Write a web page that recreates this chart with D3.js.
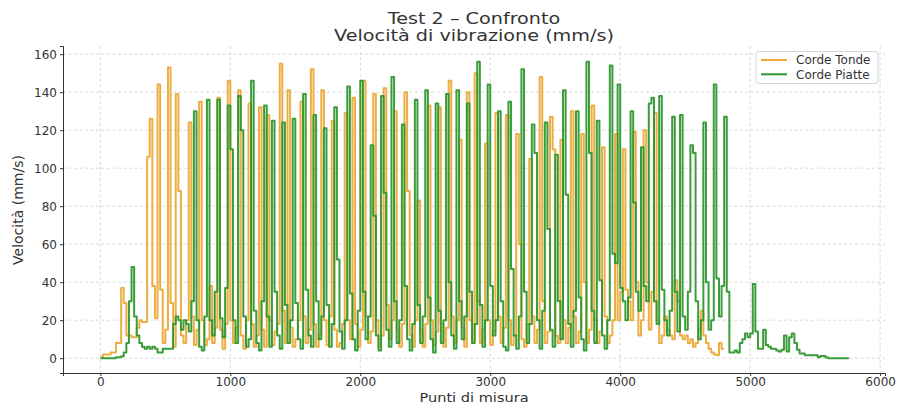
<!DOCTYPE html>
<html><head><meta charset="utf-8">
<script src="https://cdn.jsdelivr.net/npm/d3@7"></script>
<style>body{margin:0;background:#fff}</style>
</head><body>
<svg id="chart" width="900" height="407"></svg>
<script>
const titleLines = ["Test 2 – Confronto", "Velocità di vibrazione (mm/s)"];
const xLabel = "Punti di misura";
const yLabel = "Velocità (mm/s)";
const xTicks = [0, 1000, 2000, 3000, 4000, 5000, 6000];
const yTicks = [0, 20, 40, 60, 80, 100, 120, 140, 160];
const seriesNames = ["Corde Tonde", "Corde Piatte"];
const sampleSpacing = 20; // measurement points between stored samples

const cordeTonde = [
0.5,2,2,2,3,3,8,8,37,29,
12,12,11,11,16,20,19,19,106,126,
38,21,144,36,8,15,153,29,6,139,
88,12,8,20,124,22,7,15,135,20,
7,10,38,8,16,137,15,5,18,146,
20,8,16,141,12,5,20,134,18,6,
12,132,15,6,128,20,7,14,18,155,
25,8,141,16,6,10,20,135,22,8,
15,152,18,6,12,141,20,7,22,125,
15,6,8,18,129,20,10,137,18,6,
15,146,22,8,14,139,20,6,12,142,
28,10,20,130,15,6,18,140,88,12,
6,20,83,15,6,18,133,20,7,14,
132,18,6,16,146,22,8,20,115,16,
6,140,20,8,150,30,8,15,113,20,
7,14,129,22,8,16,128,20,7,12,
118,60,10,6,18,105,22,8,15,148,
30,8,14,127,110,12,8,115,20,8,
16,130,22,8,14,118,40,8,15,133,
20,8,14,111,22,8,12,20,118,20,
35,110,36,30,20,119,40,12,20,120,
40,15,35,129,20,8,12,22,15,12,
10,41,30,12,10,12,8,10,6,8,
15,25,12,8,5,3,2,1.5,8,5,5
];

const cordePiatte = [
0,0,0,0,0,0,0.5,0.5,1,3,
8,30,48,22,12,8,6,5,6,5,
6,5,3,3,5,5,5,5,18,22,
20,15,20,18,14,30,130,20,6,4,
22,136,20,12,35,136,21,11,37,133,
110,20,8,138,120,22,6,10,146,25,
8,4,30,133,22,6,125,35,12,5,
124,28,8,20,126,29,10,5,139,36,
12,6,128,30,10,22,121,28,6,18,
132,52,14,5,20,143,34,10,4,25,
146,35,10,22,112,75,12,4,138,87,
15,6,148,30,8,20,123,38,10,4,
18,136,28,8,22,141,32,10,3,134,
25,8,20,139,40,12,5,141,30,10,
22,134,35,8,18,156,28,6,20,144,
38,12,20,130,30,6,4,135,47,12,
5,22,152,35,8,18,123,108,20,5,
25,124,68,15,6,107,30,10,141,86,
18,6,25,130,32,10,4,156,108,25,
8,125,41,12,5,20,154,55,50,144,
37,30,20,32,130,82,35,25,111,38,
30,134,137,30,18,138,36,20,12,25,
127,35,14,128,22,15,35,112,108,30,
10,20,124,40,15,20,144,42,22,38,
127,35,3,3,4,3,8,10,13,11,
13,39,14,5,5,15,7,6,5,5,
4,3.5,4.5,12,3.5,11,13,8,4.5,2.5,
2.5,1.5,1.5,1.5,1.5,1.5,0.5,1.2,1.2,0.3,
0,0,0,0,0,0,0,0,0
];

const colors = ["#ebaa38", "#2f982f"];
const font = "DejaVu Sans, sans-serif";
const svg = d3.select("#chart");

const x = d3.scaleLinear().domain([-287.5, 6037.5]).range([63, 885]);
const y = d3.scaleLinear().domain([-7.8, 164.3]).range([373, 46]);

// grid
const grid = svg.append("g");
grid.selectAll("line.gx").data(xTicks).join("line")
  .attr("x1", d => x(d)).attr("x2", d => x(d)).attr("y1", 46).attr("y2", 373)
  .attr("stroke", "#cfcfcf").attr("stroke-width", 0.8).attr("stroke-dasharray", "3,2.5");
grid.selectAll("line.gy").data(yTicks).join("line")
  .attr("x1", 63).attr("x2", 885).attr("y1", d => y(d)).attr("y2", d => y(d))
  .attr("stroke", "#cfcfcf").attr("stroke-width", 0.8).attr("stroke-dasharray", "3,2.5");

const line = d3.line()
  .x((d, i) => x(i * sampleSpacing))
  .y(d => y(d))
  .curve(d3.curveStepAfter);

[cordeTonde, cordePiatte].forEach((s, k) => {
  svg.append("path").datum(s)
    .attr("d", line)
    .attr("fill", "none")
    .attr("stroke", colors[k])
    .attr("stroke-width", 2)
    .attr("stroke-linejoin", "round")
    .attr("opacity", 0.95);
});

// axes
const xAxis = svg.append("g").attr("transform", "translate(0,373)")
  .call(d3.axisBottom(x).tickValues(xTicks).tickSize(3).tickPadding(1.5).tickFormat(d3.format("d")));
const yAxis = svg.append("g").attr("transform", "translate(63,0)")
  .call(d3.axisLeft(y).tickValues(yTicks).tickSize(3).tickPadding(3).tickFormat(d3.format("d")));
[xAxis, yAxis].forEach(a => {
  a.select(".domain").attr("stroke", "#333").attr("stroke-width", 1);
  a.selectAll(".tick line").attr("stroke", "#333");
  a.selectAll("text").attr("font-family", font).attr("font-size", 12).attr("fill", "#333");
});

// titles (horizontally widened like the reference lettering)
titleLines.forEach((t, k) => {
  svg.append("text").attr("transform", `translate(474,${24 + k * 17}) scale(1.2,1)`)
    .attr("text-anchor", "middle")
    .attr("font-family", font).attr("font-size", 16).attr("fill", "#333").text(t);
});
svg.append("text").attr("transform", "translate(474,402) scale(1.12,1)").attr("text-anchor", "middle")
  .attr("font-family", font).attr("font-size", 13).attr("fill", "#333").text(xLabel);
svg.append("text").attr("transform", "translate(23,210) rotate(-90)").attr("text-anchor", "middle")
  .attr("font-family", font).attr("font-size", 14).attr("fill", "#333").text(yLabel);

// legend
const lg = svg.append("g");
lg.append("rect").attr("x", 756).attr("y", 51.5).attr("width", 122).attr("height", 32)
  .attr("rx", 3).attr("fill", "#fff").attr("fill-opacity", 0.85).attr("stroke", "#d6d6d6");
seriesNames.forEach((n, k) => {
  const yy = 60 + k * 14.3;
  lg.append("line").attr("x1", 761).attr("x2", 787).attr("y1", yy).attr("y2", yy)
    .attr("stroke", colors[k]).attr("stroke-width", 2);
  lg.append("text").attr("x", 796).attr("y", yy).attr("dy", "0.35em")
    .attr("font-family", font).attr("font-size", 12).attr("fill", "#333").text(n);
});
</script>
</body></html>
